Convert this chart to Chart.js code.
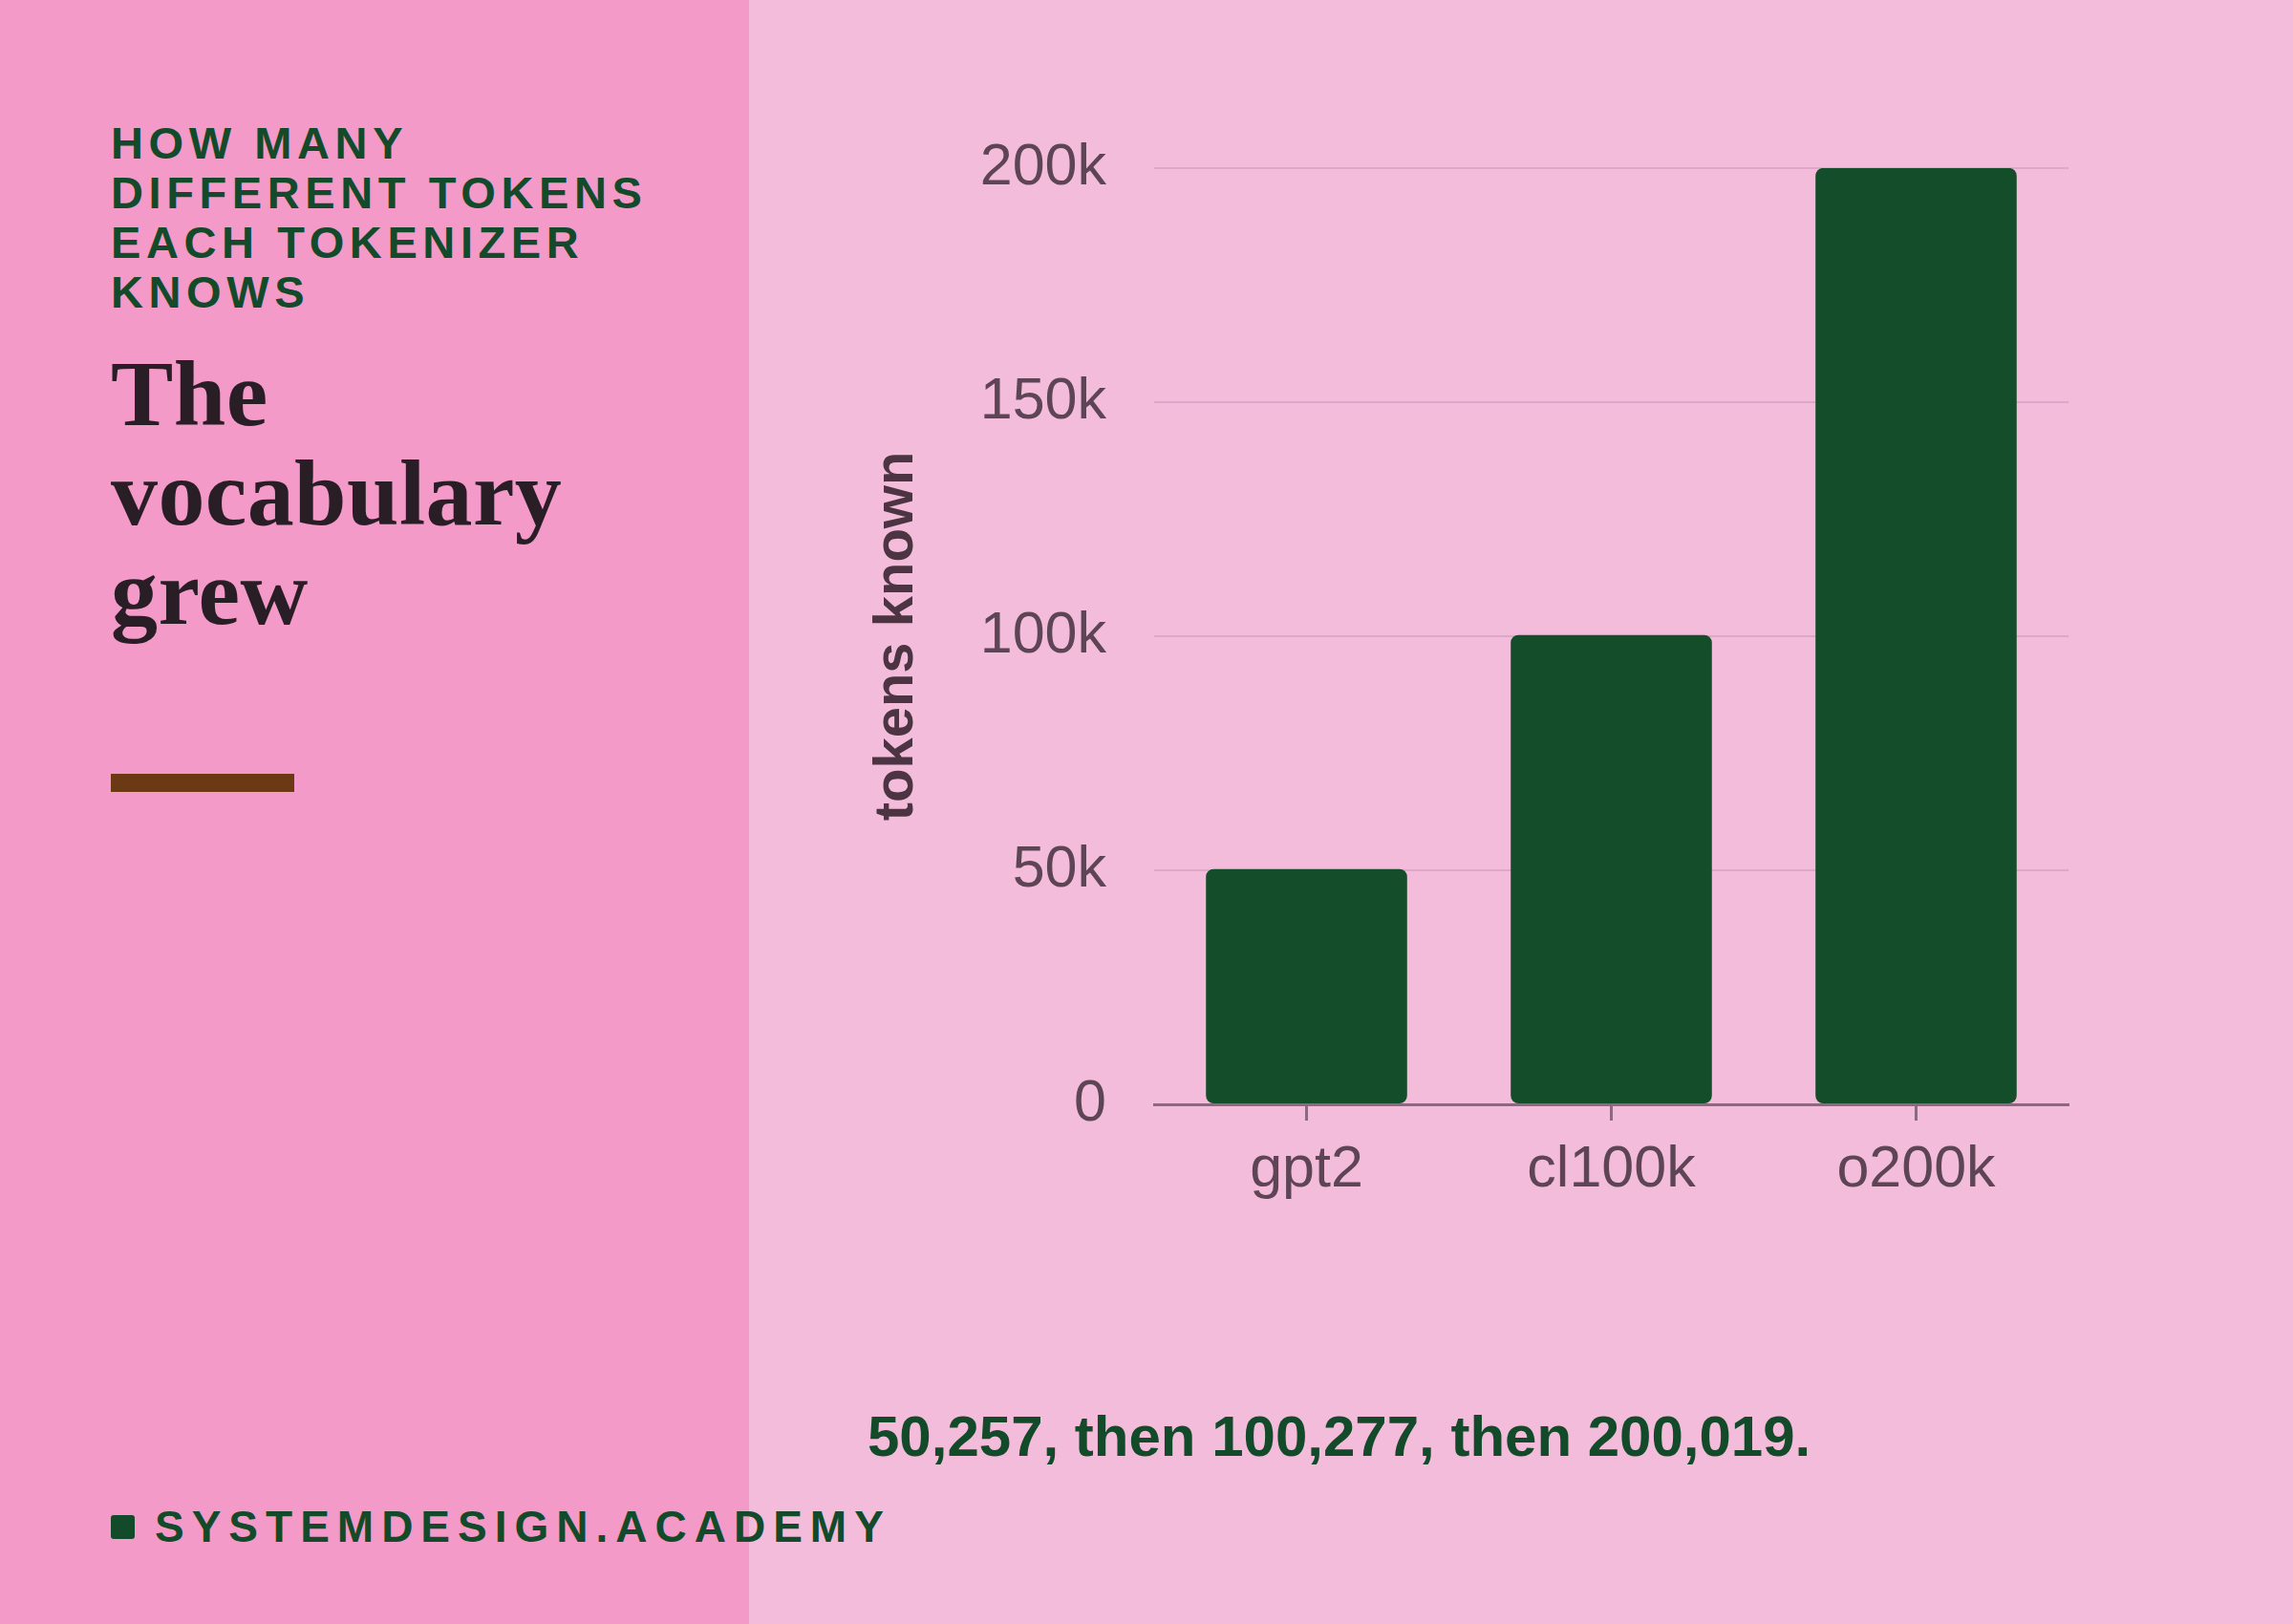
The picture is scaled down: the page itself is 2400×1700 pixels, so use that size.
<!DOCTYPE html>
<html>
<head>
<meta charset="utf-8">
<script src="https://cdn.jsdelivr.net/npm/chart.js@4"></script>
<style>
  html, body { margin: 0; padding: 0; }
  body { width: 2400px; height: 1700px; position: relative; overflow: hidden; background: #f4bcdb; font-family: 'Liberation Sans', Arial, sans-serif; }
  .side { position: absolute; left: 0; top: 0; width: 784px; height: 1700px; background: #f39ac9; }
  .kicker { position: absolute; left: 116px; top: 124px; font-weight: 700; font-size: 47px; line-height: 52px; letter-spacing: 5.6px; color: #134a2a; white-space: nowrap; }
  .title { position: absolute; left: 116px; top: 360px; font-family: 'Liberation Serif', 'Times New Roman', serif; font-weight: 700; font-size: 98px; line-height: 104px; letter-spacing: 0.4px; color: #2a1e26; white-space: nowrap; }
  .rule { position: absolute; left: 116px; top: 810px; width: 192px; height: 19px; background: #6b3a14; }
  .caption { position: absolute; left: 908px; top: 1474px; font-weight: 700; font-size: 60px; line-height: 60px; color: #134a2a; white-space: nowrap; }
  .brand { position: absolute; left: 162px; top: 1575px; font-weight: 700; font-size: 46px; line-height: 46px; letter-spacing: 8px; color: #134a2a; white-space: nowrap; }
  .dot { position: absolute; left: 116px; top: 1586px; width: 25px; height: 25px; border-radius: 3px; background: #134a2a; }
  .chart-box { position: absolute; left: 880px; top: 0; width: 1320px; height: 1286px; }
</style>
</head>
<body>
  <div class="side"></div>
  <div class="kicker">HOW MANY<br>DIFFERENT TOKENS<br>EACH TOKENIZER<br>KNOWS</div>
  <div class="title">The<br>vocabulary<br>grew</div>
  <div class="rule"></div>
  <div class="caption">50,257, then 100,277, then 200,019.</div>
  <div class="dot"></div>
  <div class="brand">SYSTEMDESIGN.ACADEMY</div>
  <div class="chart-box"><canvas id="vocabChart"></canvas></div>

<script>
  // vocabulary size per tokenizer
  var tokenizers = ['gpt2', 'cl100k', 'o200k'];
  var vocabSizes = [50257, 100277, 200019];
  var yTickValues = [0, 50000, 100000, 150000, 200000];
  var yTickLabels = ['0', '50k', '100k', '150k', '200k'];

  var barColor = '#134d2a';
  var tickText = '#5e4556';
  var axisColor = '#8b6a80';
  var gridColor = '#dca7c8';
  var sans = "'Liberation Sans', Arial, sans-serif";

  new Chart(document.getElementById('vocabChart'), {
    type: 'bar',
    data: {
      labels: tokenizers,
      datasets: [{
        label: 'tokens known',
        data: vocabSizes,
        backgroundColor: barColor,
        borderRadius: 8,
        borderSkipped: false,
        barPercentage: 0.66,
        categoryPercentage: 1
      }]
    },
    options: {
      responsive: true,
      maintainAspectRatio: false,
      animation: false,
      layout: { padding: { top: 176, right: 35, left: 0, bottom: 0 } },
      plugins: {
        legend: { display: false },
        tooltip: { enabled: false }
      },
      scales: {
        x: {
          afterFit: function (scale) { scale.height = 130; },
          grid: { display: true, offset: false, drawOnChartArea: false, drawTicks: true, tickLength: 17, tickColor: axisColor, tickWidth: 3 },
          border: { display: true, color: axisColor, width: 3 },
          ticks: { color: tickText, padding: 16, font: { family: sans, size: 61 } }
        },
        y: {
          min: 0,
          max: 200000,
          afterFit: function (scale) { scale.width = 328; },
          afterBuildTicks: function (scale) {
            scale.ticks = yTickValues.map(function (v) { return { value: v }; });
          },
          grid: { color: gridColor, lineWidth: 2, drawTicks: false },
          border: { display: false },
          ticks: {
            color: tickText,
            padding: 50,
            font: { family: sans, size: 61 },
            callback: function (value, index) { return yTickLabels[index]; }
          },
          title: {
            display: true,
            text: 'tokens known',
            color: '#4c3443',
            padding: { top: 24, bottom: 0 },
            font: { family: sans, size: 58, weight: 'bold' }
          }
        }
      }
    }
  });
</script>
</body>
</html>
